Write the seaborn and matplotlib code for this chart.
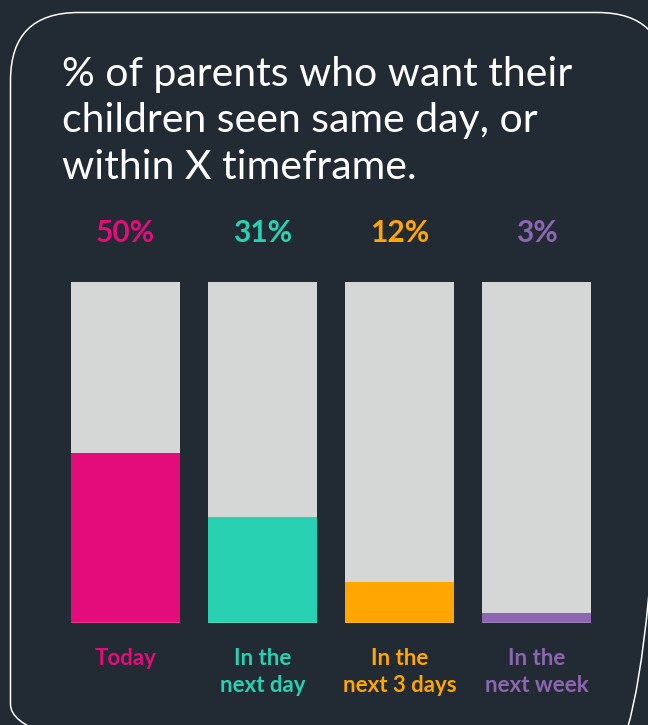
import matplotlib
matplotlib.use("Agg")
import matplotlib.pyplot as plt
import seaborn as sns
import pandas as pd
from matplotlib.patches import FancyBboxPatch

categories = ["Today", "In the\nnext day", "In the\nnext 3 days", "In the\nnext week"]
values = [50, 31, 12, 3]
pct_labels = ["50%", "31%", "12%", "3%"]
colors = ["#e40c7a", "#29d1b3", "#ffa600", "#8d66b2"]
title = "% of parents who want their\nchildren seen same day, or\nwithin X timeframe."

BG = "#222a34"
GREY = "#d5d7d6"

sns.set_theme(style="white")
plt.rcParams["font.family"] = ["Lato", "DejaVu Sans"]

fig = plt.figure(figsize=(6.48, 7.25), dpi=100)
fig.patch.set_facecolor(BG)

# overlay axes in pixel coordinates for frame and text
bg = fig.add_axes([0, 0, 1, 1])
bg.set_xlim(0, 648)
bg.set_ylim(725, 0)
bg.axis("off")
bg.set_facecolor(BG)
frame = FancyBboxPatch((10.5, 12.5), 655, 760,
                       boxstyle="round,pad=0,rounding_size=68",
                       facecolor="none", edgecolor="white", linewidth=1.1)
bg.add_patch(frame)
bg.text(62, 56, title, color="white", fontsize=29.5, va="top", ha="left",
        linespacing=1.31)

df = pd.DataFrame({"cat": categories, "val": values, "full": [100] * len(values)})

ax = fig.add_axes([57 / 648, 102 / 725, 548 / 648, 341 / 725])
ax.set_facecolor("none")
sns.barplot(data=df, x="cat", y="full", color=GREY, width=0.8, ax=ax,
            saturation=1, edgecolor="none")
sns.barplot(data=df, x="cat", y="val", hue="cat", palette=colors, width=0.8,
            ax=ax, saturation=1, edgecolor="none", legend=False)
n = len(categories)
ax.hlines([0] * n, [i - 0.4 for i in range(n)], [i + 0.4 for i in range(n)],
          color="#e6e6e6", linewidth=1, zorder=5)
ax.set_xlim(-0.5, 3.5)
ax.set_ylim(0, 100)
ax.axis("off")

for i in range(n):
    ax.text(i, 114.5, pct_labels[i], color=colors[i], fontsize=21.5,
            fontweight="bold", ha="center", va="center")
    ax.text(i, -7.4, categories[i], color=colors[i], fontsize=16,
            fontweight="bold", ha="center", va="top", linespacing=1.32)

fig.savefig("out.png", dpi=100, facecolor=BG)
